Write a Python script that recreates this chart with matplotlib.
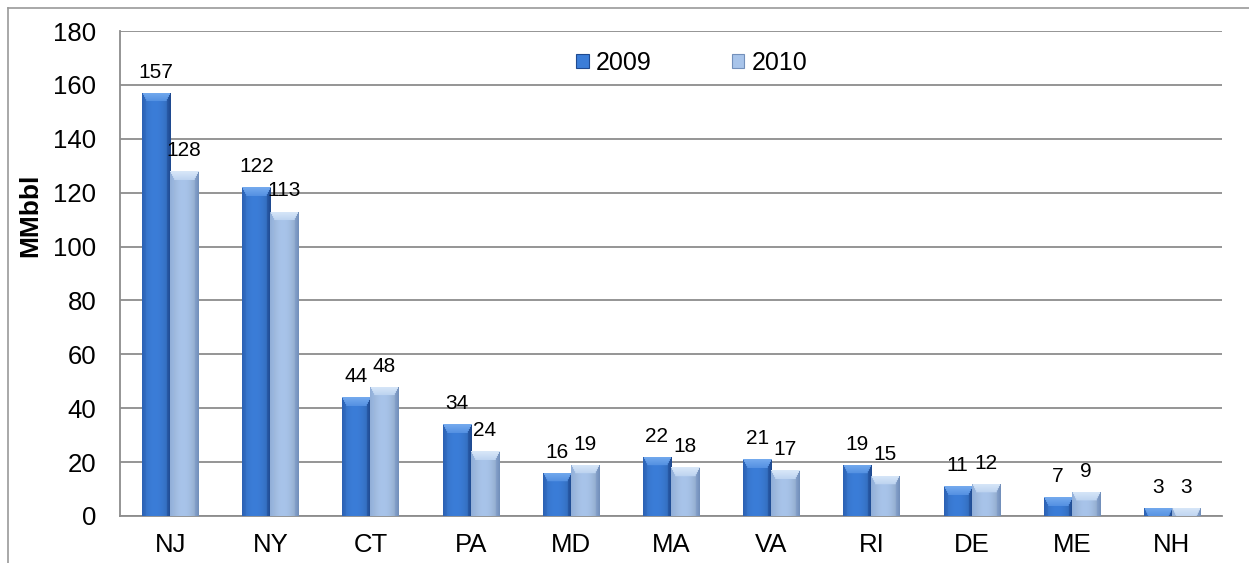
import numpy as np
import matplotlib
matplotlib.use("Agg")
from matplotlib import pyplot as plt
from matplotlib.colors import to_rgb
from matplotlib.patches import Patch
from matplotlib.lines import Line2D

states = ["NJ", "NY", "CT", "PA", "MD", "MA", "VA", "RI", "DE", "ME", "NH"]
vals_2009 = [157, 122, 44, 34, 16, 22, 21, 19, 11, 7, 3]
vals_2010 = [128, 113, 48, 24, 19, 18, 17, 15, 12, 9, 3]
years = ["2009", "2010"]

plt.rcParams["font.family"] = ["Liberation Sans", "DejaVu Sans"]

# facet colours: base, top, left, right
styles = {
    "2009": ("#3b7dd8", "#74aaee", "#2c62b4", "#1f4a90"),
    "2010": ("#a8c4ea", "#d8e7f8", "#92afd8", "#7390bb"),
}

fig = plt.figure(figsize=(12.49, 5.63), dpi=100)
ax = fig.add_axes([0.0961, 0.0835, 0.8823, 0.8614])

x = np.arange(len(states))
w = 0.28
bars1 = ax.bar(x - w / 2, vals_2009, w, color=styles["2009"][0], zorder=3, linewidth=0)
bars2 = ax.bar(x + w / 2, vals_2010, w, color=styles["2010"][0], zorder=3, linewidth=0)

ax.set_xlim(-0.5, len(states) - 0.5)
ax.set_ylim(0, 180)
ax.set_yticks(range(0, 181, 20))
ax.set_xticks(x)
ax.set_xticklabels(states)
ax.tick_params(axis="both", length=0, labelsize=18.5)
ax.tick_params(axis="y", pad=17)
ax.tick_params(axis="x", pad=12)

ax.grid(axis="y", color="#8c8c8c", linewidth=1.3, zorder=0)
for s in ["top", "right"]:
    ax.spines[s].set_visible(False)
for s in ["left", "bottom"]:
    ax.spines[s].set_color("#8c8c8c")
    ax.spines[s].set_linewidth(1.3)

ax.set_ylabel("MMbbl", fontsize=19, fontweight="bold")
ax.yaxis.set_label_coords(-0.0708, 0.62)

fig.canvas.draw()


def bevel(bar, colors):
    bb = bar.get_window_extent()
    wp = max(int(round(bb.width)), 2)
    hp = max(int(round(bb.height)), 2)
    base, top, left, right = [np.array(to_rgb(c)) for c in colors]
    jj, ii = np.meshgrid(np.arange(wp), np.arange(hp))
    dl = jj
    dr = wp - 1 - jj
    dt = ii
    img = np.empty((hp, wp, 3))
    # horizontal shading of main face
    t = jj / max(wp - 1, 1)
    shade = 1.0 - 0.2 * (np.abs(t - 0.45) / 0.55) ** 2
    img[:] = np.clip(base * shade[..., None], 0, 1)
    bt, bs = 9, 4
    lm = (dl < bs) & (dl <= dt)
    rm = (dr < bs) & (dr <= dt)
    tm = (dt < bt) & (dt * bs / bt <= np.minimum(dl, dr))
    fl = (dl / bs)[..., None]
    img[lm] = (left * (1 - 0.5 * fl) + base * 0.5 * fl)[lm]
    fr = (dr / bs)[..., None]
    img[rm] = (right * (1 - 0.4 * fr) + base * 0.4 * fr)[rm]
    ft = (dt / bt)[..., None]
    img[tm] = (top * (1 - 0.6 * ft) + base * 0.6 * ft)[tm]
    x0, y0 = bar.get_x(), bar.get_y()
    im = ax.imshow(img, extent=(x0, x0 + bar.get_width(), y0, y0 + bar.get_height()),
                   aspect="auto", origin="upper", zorder=3.5, interpolation="bilinear")
    im.set_clip_path(bar)


for bars, yr in [(bars1, "2009"), (bars2, "2010")]:
    for b in bars:
        bevel(b, styles[yr])
    ax.bar_label(bars, padding=8, fontsize=15, zorder=5)

ax.set_xlim(-0.5, len(states) - 0.5)
ax.set_ylim(0, 180)

handles = [Patch(facecolor=styles[y][0], edgecolor=styles[y][3], linewidth=0.8) for y in years]
ax.legend(handles, years, loc="center", bbox_to_anchor=(0.519, 0.934), ncol=2,
          frameon=False, fontsize=18, handlelength=0.5, handleheight=0.5,
          handletextpad=0.3, columnspacing=3.2)

# outer chart border (top and left)
fig.add_artist(Line2D([0.0064, 1.0], [0.9858, 0.9858], color="#9a9a9a", linewidth=1.2,
                      transform=fig.transFigure))
fig.add_artist(Line2D([0.0064, 0.0064], [0.0, 0.9858], color="#9a9a9a", linewidth=1.2,
                      transform=fig.transFigure))

fig.savefig("out.png", dpi=100)
